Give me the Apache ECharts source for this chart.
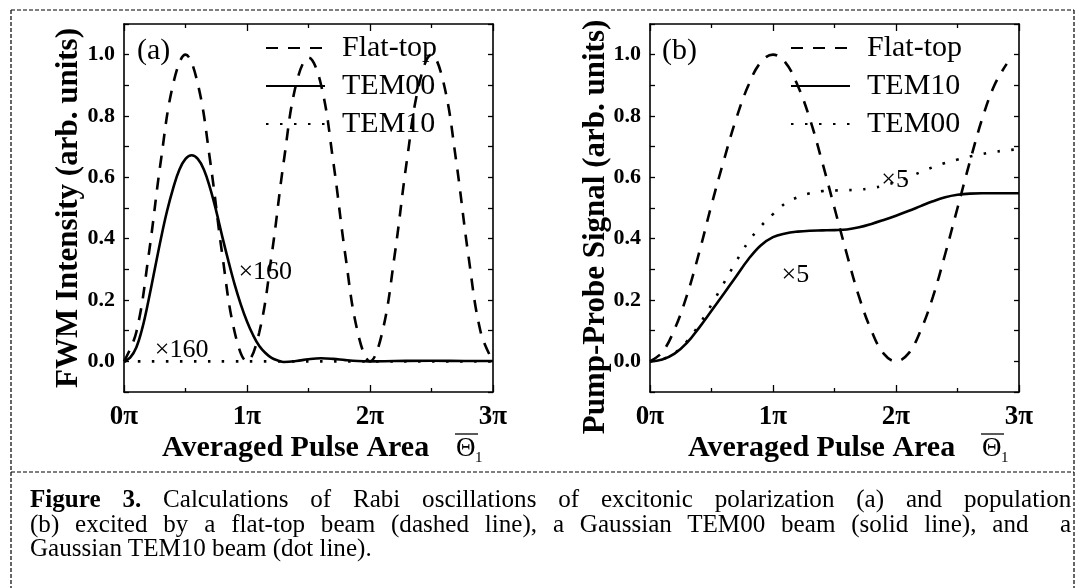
<!DOCTYPE html>
<html>
<head>
<meta charset="utf-8">
<script src="https://cdn.jsdelivr.net/npm/echarts@6/dist/echarts.min.js"></script>
<style>
html, body { margin: 0; padding: 0; background: #fff; }
#wrap { position: relative; width: 1075px; height: 588px; overflow: hidden; }
#chart { width: 1075px; height: 588px; }
#caption {
  position: absolute; left: 30px; top: 487px; width: 1079px;
  font-family: "Liberation Serif", "Times New Roman", serif;
  font-size: 26px; line-height: 24.5px; color: #000; white-space: nowrap;
  transform: scaleX(0.965); transform-origin: 0 0;
}
#caption .j { text-align: justify; text-align-last: justify; }
</style>
</head>
<body>
<div id="wrap">
  <div id="chart"></div>
  <div id="caption">
    <div class="j"><b>Figure 3.</b> Calculations of Rabi oscillations of excitonic polarization (a) and population</div>
    <div class="j">(b) excited by a flat-top beam (dashed line), a Gaussian TEM00 beam (solid line), and &nbsp;a</div>
    <div>Gaussian TEM10 beam (dot line).</div>
  </div>
</div>
<script>
// x in units of pi
var xTenth = [0, 0.1, 0.2, 0.3, 0.4, 0.5, 0.6, 0.7, 0.8, 0.9, 1.0, 1.1, 1.2, 1.3, 1.4, 1.5,
  1.6, 1.7, 1.8, 1.9, 2.0, 2.1, 2.2, 2.3, 2.4, 2.5, 2.6, 2.7, 2.8, 2.9, 3.0];

// (a) FWM intensity
var flatTopA = [0, 0.095, 0.345, 0.655, 0.905, 1.0, 0.905, 0.655, 0.345, 0.095, 0,
  0.095, 0.345, 0.655, 0.905, 0.99, 0.905, 0.655, 0.345, 0.095, 0,
  0.095, 0.345, 0.655, 0.905, 1.0, 0.905, 0.655, 0.345, 0.095, 0];
var xTem00A = [0, 0.05, 0.1, 0.15, 0.2, 0.25, 0.3, 0.35, 0.4, 0.45, 0.5, 0.55, 0.6, 0.65,
  0.7, 0.75, 0.8, 0.85, 0.9, 0.95, 1.0, 1.05, 1.1, 1.15, 1.2, 1.25, 1.3, 1.4, 1.5, 1.6,
  1.7, 1.8, 1.9, 2.0, 2.2, 2.5, 2.8, 3.0];
var tem00A = [0, 0.012, 0.045, 0.11, 0.2, 0.3, 0.4, 0.49, 0.565, 0.625, 0.66, 0.672, 0.66,
  0.625, 0.565, 0.49, 0.405, 0.325, 0.25, 0.185, 0.13, 0.085, 0.05, 0.027, 0.011, 0.003,
  -0.002, 0.001, 0.007, 0.01, 0.008, 0.004, 0.001, 0, 0.001, 0.002, 0.001, 0.001];
var xTem10A = [0, 3];
var tem10A = [0, 0];

// (b) pump-probe signal
var xFlatB = xTenth.slice(0, 30);
var flatTopB = [0, 0.03, 0.105, 0.215, 0.355, 0.51, 0.655, 0.79, 0.9, 0.975, 1.0, 0.975,
  0.9, 0.79, 0.65, 0.5, 0.35, 0.21, 0.1, 0.025, 0, 0.025, 0.1, 0.21, 0.35, 0.5, 0.65,
  0.79, 0.9, 0.97];
var tem10B = [0, 0.006, 0.025, 0.06, 0.11, 0.165, 0.22, 0.277, 0.333, 0.378, 0.405, 0.417,
  0.423, 0.426, 0.427, 0.428, 0.43, 0.437, 0.448, 0.461, 0.475, 0.49, 0.506, 0.522, 0.535,
  0.543, 0.547, 0.548, 0.548, 0.548, 0.548];
var tem00B = [0, 0.007, 0.027, 0.065, 0.12, 0.185, 0.255, 0.325, 0.39, 0.44, 0.48, 0.515,
  0.535, 0.548, 0.555, 0.557, 0.558, 0.56, 0.565, 0.573, 0.585, 0.6, 0.617, 0.633, 0.647,
  0.658, 0.668, 0.676, 0.683, 0.688, 0.692];

var xTickLabels = ['0π', '1π', '2π', '3π'];
var yTickLabels = ['0.0', '0.2', '0.4', '0.6', '0.8', '1.0'];

// annotations: [text, x, y, panel]
var notes = [
  ['×160', 0.93, 0.29, 0],
  ['×160', 0.25, 0.035, 0],
  ['×5', 1.88, 0.59, 1],
  ['×5', 1.07, 0.28, 1]
];

var SERIF = '"Liberation Serif", "Times New Roman", serif';
var DASH = [12, 10];
var DOT = [2.5, 11.5];

function pairs(xs, ys) {
  return xs.map(function (x, i) { return [x, ys[i]]; });
}

function curve(name, panel, xs, ys, type) {
  return {
    name: name,
    type: 'line',
    xAxisIndex: panel * 2,
    yAxisIndex: panel * 2,
    data: pairs(xs, ys),
    smooth: 0.4,
    symbol: 'none',
    silent: true,
    lineStyle: { color: '#000', width: 2.6, type: type }
  };
}

function xAxes(gridIndex) {
  var base = {
    gridIndex: gridIndex, type: 'value', min: 0, max: 3, interval: 1,
    axisLine: { show: true, onZero: false, lineStyle: { color: '#000', width: 1.6 } },
    axisTick: { show: true, inside: true, length: 7, lineStyle: { color: '#000', width: 1.3 } },
    minorTick: { show: true, splitNumber: 2, length: 4, lineStyle: { color: '#000', width: 1.3 } },
    splitLine: { show: false }
  };
  var bottom = Object.assign({}, base, {
    position: 'bottom',
    axisLabel: {
      margin: 12, color: '#000', fontFamily: SERIF, fontWeight: 'bold', fontSize: 27,
      formatter: function (v) { return xTickLabels[Math.round(v)]; }
    }
  });
  var top = Object.assign({}, base, { position: 'top', axisLabel: { show: false } });
  return [bottom, top];
}

function yAxes(gridIndex) {
  var base = {
    gridIndex: gridIndex, type: 'value', min: -0.1, max: 1.1, interval: 0.1,
    axisLine: { show: true, onZero: false, lineStyle: { color: '#000', width: 1.6 } },
    axisTick: { show: true, inside: true, length: 5, lineStyle: { color: '#000', width: 1.3 } },
    splitLine: { show: false }
  };
  var left = Object.assign({}, base, {
    position: 'left',
    axisLabel: {
      margin: 9, color: '#000', fontFamily: SERIF, fontWeight: 'bold', fontSize: 22,
      formatter: function (v) {
        var k = Math.round(v * 10);
        return (k >= 0 && k <= 10 && k % 2 === 0) ? yTickLabels[k / 2] : '';
      }
    }
  });
  var right = Object.assign({}, base, { position: 'right', axisLabel: { show: false } });
  return [left, right];
}

function legend(left, names) {
  return {
    orient: 'vertical', left: left, top: 33, padding: 0,
    itemWidth: 59, itemHeight: 4, itemGap: 8,
    selectedMode: false,
    data: names,
    itemStyle: { opacity: 0 },
    formatter: function (n) { return n.split(':')[1]; },
    textStyle: { fontFamily: SERIF, fontSize: 30, lineHeight: 30, color: '#000', padding: [0, 0, 0, 12] }
  };
}

// text placed by its left edge and vertical middle
function text(str, x, y, size, weight) {
  return {
    type: 'text', x: x, y: y, silent: true,
    style: {
      text: str, fill: '#000', font: (weight || 'normal') + ' ' + size + 'px ' + SERIF,
      align: 'left', verticalAlign: 'middle', textAlign: 'left', textVerticalAlign: 'middle'
    }
  };
}

function vtext(str, x, y) {
  return {
    type: 'text', x: x, y: y, rotation: Math.PI / 2, silent: true,
    style: {
      text: str, fill: '#000', font: 'bold 31px ' + SERIF,
      align: 'center', verticalAlign: 'middle', textAlign: 'center', textVerticalAlign: 'middle'
    }
  };
}

function dashLine(x1, y1, x2, y2) {
  return {
    type: 'line', silent: true,
    shape: { x1: x1, y1: y1, x2: x2, y2: y2 },
    style: { stroke: '#000', lineWidth: 1.2, lineDash: [4, 2] }
  };
}

function pulseTitle(plotLeft) {
  var tx = plotLeft + 38;
  var th = plotLeft + 332;
  return [
    text('Averaged Pulse Area', tx, 448, 30, 'bold'),
    text('Θ', th, 449, 27),
    text('1', th + 19, 458, 15),
    { type: 'line', silent: true, shape: { x1: th - 1, y1: 434, x2: th + 22, y2: 434 },
      style: { stroke: '#000', lineWidth: 1.3 } }
  ];
}

var chart = echarts.init(document.getElementById('chart'));

var grids = [
  { left: 124, top: 24, width: 369, height: 368 },
  { left: 650, top: 24, width: 369, height: 368 }
];

var option = {
  backgroundColor: '#fff',
  animation: false,
  grid: grids,
  xAxis: xAxes(0).concat(xAxes(1)),
  yAxis: yAxes(0).concat(yAxes(1)),
  legend: [
    legend(265, ['a:Flat-top', 'a:TEM00', 'a:TEM10']),
    legend(790, ['b:Flat-top', 'b:TEM10', 'b:TEM00'])
  ],
  series: [
    curve('a:Flat-top', 0, xTenth, flatTopA, DASH),
    curve('a:TEM10', 0, xTem10A, tem10A, DOT),
    curve('a:TEM00', 0, xTem00A, tem00A, 'solid'),
    curve('b:Flat-top', 1, xFlatB, flatTopB, DASH),
    curve('b:TEM00', 1, xTenth, tem00B, DOT),
    curve('b:TEM10', 1, xTenth, tem10B, 'solid')
  ]
};
chart.setOption(option);

var g = [
  dashLine(11, 10, 1074, 10),
  dashLine(11, 10, 11, 588),
  dashLine(1074, 10, 1074, 588),
  dashLine(11, 472, 1074, 472),
  vtext('FWM Intensity (arb. units)', 69, 208),
  vtext('Pump-Probe Signal (arb. units)', 596, 227),
  text('(a)', grids[0].left + 13, 51, 30),
  text('(b)', grids[1].left + 12, 51, 30)
].concat(pulseTitle(124), pulseTitle(650));

notes.forEach(function (n) {
  var p = chart.convertToPixel({ gridIndex: n[3] }, [n[1], n[2]]);
  g.push(text(n[0], p[0], p[1], 26));
});

chart.setOption({ graphic: g });
</script>
</body>
</html>
